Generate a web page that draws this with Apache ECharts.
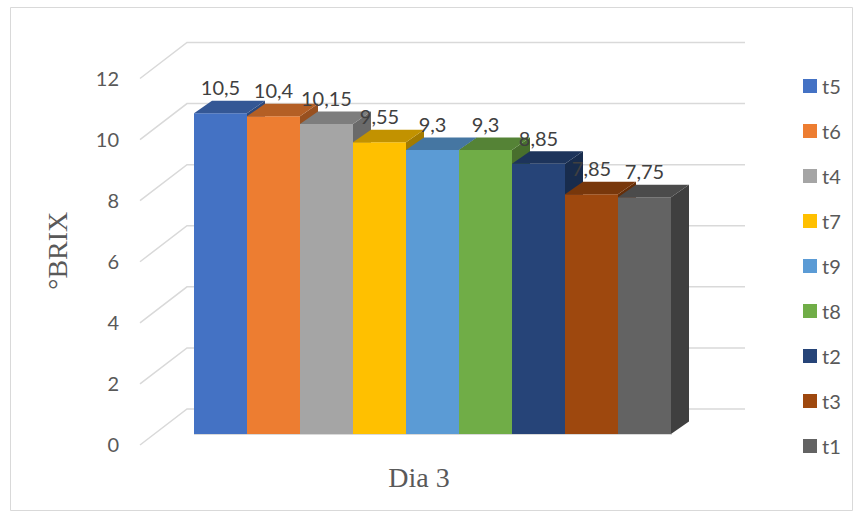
<!DOCTYPE html>
<html>
<head>
<meta charset="utf-8">
<script src="https://cdn.jsdelivr.net/npm/echarts@6/dist/echarts.min.js"></script>
<style>html,body{margin:0;padding:0;background:#fff;}#c{width:853px;height:512px;}</style>
</head>
<body>
<div id="c"></div>
<script>
// ---- data ----
const categories = ['Dia 3'];
const seriesNames = ['t5', 't6', 't4', 't7', 't9', 't8', 't2', 't3', 't1'];
const seriesValues = [10.5, 10.4, 10.15, 9.55, 9.3, 9.3, 8.85, 7.85, 7.75];
const yTicks = [0, 2, 4, 6, 8, 10, 12];
// ---- styles ----
const colors = ['#4472C4', '#ED7D31', '#A5A5A5', '#FFC000', '#5B9BD5', '#70AD47', '#264478', '#9E480E', '#636363'];

function shade(hex, f) {
  const n = parseInt(hex.slice(1), 16);
  const r = Math.round(((n >> 16) & 255) * f), g = Math.round(((n >> 8) & 255) * f), b = Math.round((n & 255) * f);
  return 'rgb(' + r + ',' + g + ',' + b + ')';
}
const N = seriesNames.length;
const DX = 18, DY = -12.5;

const chart = echarts.init(document.getElementById('c'), null, { renderer: 'svg' });

const series = [];
// back wall gridlines + diagonal ticks
series.push({
  type: 'custom',
  name: '_grid',
  silent: true,
  z: 1,
  data: yTicks.map(v => [0, v]),
  encode: { x: 0, y: 1 },
  renderItem: function (params, api) {
    const p = api.coord([0, api.value(1)]);
    const band = api.size([1, 0])[0];
    const left = p[0] - band / 2;
    const right = p[0] + band / 2;
    const y = p[1];
    return {
      type: 'polyline',
      shape: { points: [[left - 54, y + 11], [left - 7, y - 25], [right + 74, y - 25]] },
      style: { stroke: '#d9d9d9', lineWidth: 1.5, fill: null }
    };
  }
});

seriesNames.forEach(function (name, idx) {
  series.push({
    type: 'custom',
    name: name,
    z: 2,
    itemStyle: { color: colors[idx] },
    data: [[0, seriesValues[idx]]],
    encode: { x: 0, y: 1 },
    renderItem: function (params, api) {
      const v = api.value(1);
      const base = api.coord([0, 0]);
      const top = api.coord([0, v]);
      const band = api.size([1, 0])[0];
      const w = band / N;
      const x0 = base[0] - band / 2 + idx * w;
      const x1 = x0 + w;
      const yb = base[1], yt = top[1];
      const c = colors[idx];
      const zb = idx * 10;
      return {
        type: 'group',
        children: [
          { type: 'polygon', z2: zb + 1,
            shape: { points: [[x1, yt], [x1 + DX, yt + DY], [x1 + DX, yb + DY], [x1, yb]] },
            style: { fill: shade(c, 0.64) } },
          { type: 'rect', z2: zb + 2,
            shape: { x: x0, y: yt, width: w, height: yb - yt },
            style: { fill: c } },
          { type: 'polygon', z2: zb + 3,
            shape: { points: [[x0, yt], [x1, yt], [x1 + DX, yt + DY], [x0 + DX, yt + DY]] },
            style: { fill: shade(c, 0.76) } },
          { type: 'text', z2: 200 + idx,
            style: { x: x0 + w / 2, y: yt - 26, text: String(v).replace('.', ','),
              fill: '#404040', font: '20px Lato', align: 'center', verticalAlign: 'middle' } }
        ]
      };
    }
  });
});

const option = {
  backgroundColor: '#ffffff',
  animation: false,
  graphic: [{
    type: 'rect', silent: true,
    shape: { x: 10.5, y: 7.5, width: 842, height: 503 },
    style: { fill: null, stroke: '#d9d9d9', lineWidth: 1 }
  }, {
    type: 'line', silent: true,
    shape: { x1: 194, y1: 434.5, x2: 672, y2: 434.5 },
    style: { stroke: '#d9d9d9', lineWidth: 1 }
  }],
  grid: { left: 194, right: 182, top: 67.5, bottom: 78 },
  legend: {
    data: seriesNames,
    orient: 'vertical',
    left: 798,
    top: 71,
    icon: 'rect',
    itemWidth: 14,
    itemHeight: 14,
    itemGap: 25,
    textStyle: { fontFamily: 'Lato', fontSize: 20, lineHeight: 20, color: '#595959' }
  },
  xAxis: {
    type: 'category',
    data: categories,
    axisLine: { show: false },
    axisTick: { show: false },
    splitLine: { show: false },
    axisLabel: { margin: 29, fontFamily: 'Liberation Serif', fontSize: 28, lineHeight: 28,
      color: '#595959', padding: [0, 27, 0, 0] }
  },
  yAxis: {
    type: 'value',
    min: 0, max: 12, interval: 2,
    name: '°BRIX',
    nameLocation: 'middle',
    nameRotate: 90,
    nameGap: 123,
    nameTextStyle: { fontFamily: 'Liberation Serif', fontSize: 28, color: '#595959' },
    axisLine: { show: false },
    axisTick: { show: false },
    splitLine: { show: false },
    axisLabel: { margin: 75, fontFamily: 'Lato', fontSize: 20, lineHeight: 20, color: '#595959', verticalAlign: 'top' }
  },
  series: series
};
chart.setOption(option);
</script>
</body>
</html>
